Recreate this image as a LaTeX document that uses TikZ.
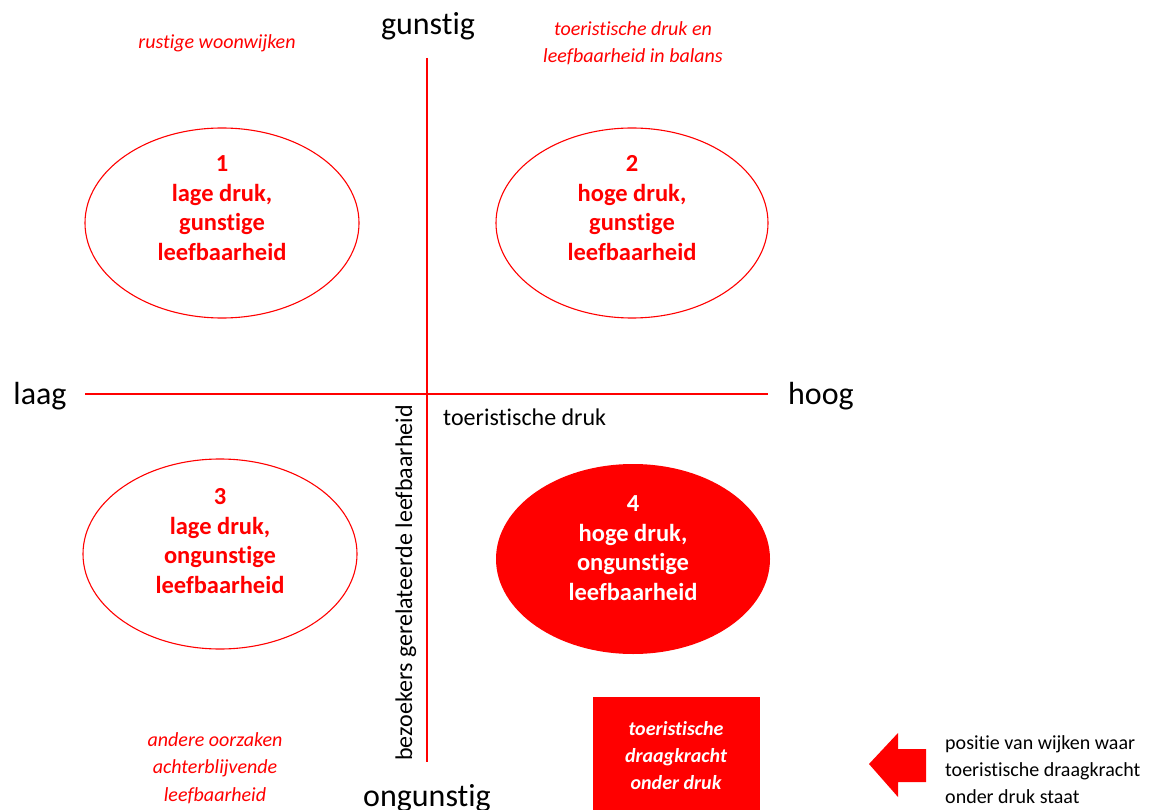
\documentclass[tikz,border=0pt]{standalone}
\usepackage{fontspec}
\setmainfont{Carlito}[Ligatures=NoCommon]
\definecolor{pred}{RGB}{255,0,0}
\begin{document}
\begin{tikzpicture}[x=1pt,y=-1pt,
  axis/.style={draw=pred,line width=2.6pt},
  oval/.style={draw=pred,line width=1.1pt},
  ovalfill/.style={fill=pred},
  ovaltext/.style={text=pred,font=\fontsize{24.5}{29.5}\selectfont\bfseries,align=center,inner sep=0pt},
  axlabel/.style={font=\fontsize{32}{38}\selectfont,anchor=base,inner sep=0pt},
  note/.style={text=pred,font=\fontsize{20}{27}\selectfont\itshape,anchor=base,inner sep=0pt},
  boxtext/.style={note,text=white,font=\fontsize{20}{27}\selectfont\bfseries\itshape},
  plain/.style={font=\fontsize{24}{29}\selectfont,anchor=base,inner sep=0pt},
  legend/.style={font=\fontsize{20}{27}\selectfont,anchor=base west,inner sep=0pt}]
\useasboundingbox (0,0) rectangle (1159,810);
% axes
\coordinate (vtop) at (427,58);
\coordinate (vbot) at (427,762);
\coordinate (hl) at (85,394);
\coordinate (hr) at (768,394);
\draw[axis] (vtop) -- (vbot);
\draw[axis] (hl) -- (hr);
% ellipses
\draw[oval] (222,223) ellipse [x radius=137,y radius=95];
\draw[oval] (632,223) ellipse [x radius=136,y radius=95];
\draw[oval] (220,554) ellipse [x radius=137,y radius=95];
\fill[ovalfill] (633,559) ellipse [x radius=137,y radius=95];
\node[ovaltext] (t1) at (222,208) {1\\lage druk,\\gunstige\\leefbaarheid};
\node[ovaltext] (t2) at (632,208) {2\\hoge druk,\\gunstige\\leefbaarheid};
\node[ovaltext] (t3) at (220,541) {3\\lage druk,\\ongunstige\\leefbaarheid};
\node[ovaltext,text=white] (t4) at (633,548) {4\\hoge druk,\\ongunstige\\leefbaarheid};
% axis labels
\node[axlabel] (gun) at (428,35) {gunstig};
\node[axlabel] (ongun) at (427,806) {ongunstig};
\node[axlabel] (laag) at (40,404) {laag};
\node[axlabel] (hoog) at (821,404) {hoog};
\node[plain,anchor=base west] (td) at (443,425) {toeristische druk};
\node[plain,rotate=90,anchor=base] (bgl) at (412,583) {bezoekers gerelateerde leefbaarheid};
% red italic notes
\node[note] (n1) at (217,49) {rustige woonwijken};
\node[note] (n2a) at (633,36) {toeristische druk en};
\node[note] (n2b) at (633,63) {leefbaarheid in balans};
\node[note] (n3a) at (215,746) {andere oorzaken};
\node[note] (n3b) at (215,773) {achterblijvende};
\node[note] (n3c) at (215,801) {leefbaarheid};
% red box
\fill[pred] (593,697) rectangle (760,812);
\node[boxtext] (b1) at (676,735) {toeristische};
\node[boxtext] (b2) at (676,762) {draagkracht};
\node[boxtext] (b3) at (676,789) {onder druk};
% arrow
\fill[pred] (869,764) -- (898,733) -- (898,749) -- (926,749) -- (926,782) -- (898,782) -- (898,797) -- cycle;
\node[legend] (l1) at (945,749) {positie van wijken waar};
\node[legend] (l2) at (945,776) {toeristische draagkracht};
\node[legend] (l3) at (945,803) {onder druk staat};
\end{tikzpicture}
\end{document}
